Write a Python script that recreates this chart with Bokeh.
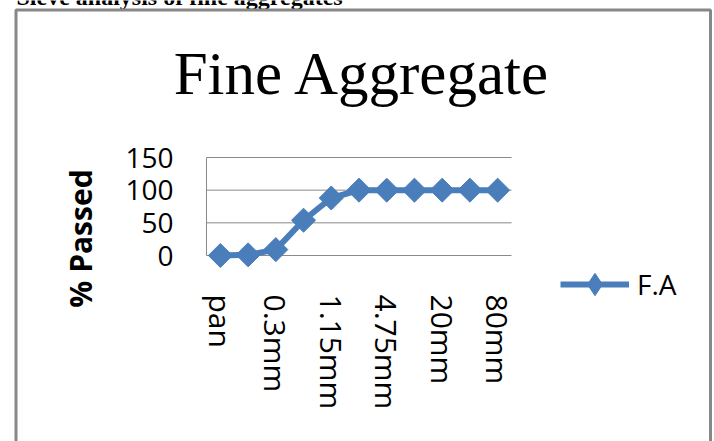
from math import pi

from bokeh.embed import file_html
from bokeh.models import (BoxAnnotation, ColumnDataSource, FixedTicker, Label,
                          Legend, LegendItem, Range1d)
from bokeh.plotting import figure
from bokeh.resources import INLINE

# Sieve sizes (every other one is labelled on the axis) and cumulative % passing
sieve_sizes = ["pan", "0.15mm", "0.3mm", "0.6mm", "1.15mm", "2.36mm",
               "4.75mm", "10mm", "20mm", "40mm", "80mm"]
percent_passed = [0, 1, 9, 54, 88, 100, 100, 100, 100, 100, 100]
y_ticks = [0, 50, 100, 150]
series_name = "F.A"

BLUE = "#4a7ebb"
GRID = "#8a8a8a"
FRAME_GREY = "#878787"
SANS = "Open Sans"
SERIF = "Liberation Serif"

W, H = 714, 441
# pixel box (from the top-left corner) that the category/percent area occupies
AREA_L, AREA_R, AREA_T, AREA_B = 206, 511, 157, 255

n = len(sieve_sizes)
x_lo, x_hi = -0.5, n - 0.5
y_lo, y_hi = y_ticks[0], y_ticks[-1]
kx = (AREA_R - AREA_L) / (x_hi - x_lo)
ky = (AREA_B - AREA_T) / (y_hi - y_lo)

# the plot frame spans the whole canvas so that nothing gets clipped
p = figure(width=W, height=H, output_backend="svg", toolbar_location=None,
           title=None,
           x_range=Range1d(x_lo - AREA_L / kx, x_hi + (W - AREA_R) / kx),
           y_range=Range1d(y_lo - (H - AREA_B) / ky, y_hi + AREA_T / ky),
           min_border=0, min_border_left=0, min_border_right=0,
           min_border_top=0, min_border_bottom=0)
p.outline_line_color = None
p.background_fill_color = "white"
p.border_fill_color = "white"
p.xgrid.visible = False
p.ygrid.visible = False


def top(px):
    """screen y measured from the canvas top"""
    return H - px


src = ColumnDataSource(dict(x=list(range(n)), y=percent_passed, name=sieve_sizes))

# horizontal gridlines at the percent ticks
p.segment(x0=x_lo, x1=x_hi, y0=y_ticks, y1=y_ticks, line_color=GRID, line_width=1)

# x axis: category labels, vertical, every second sieve
p.xaxis.fixed_location = y_lo
p.xaxis.bounds = (x_lo, x_hi)
p.xaxis.ticker = FixedTicker(ticks=list(range(0, n, 2)))
p.xaxis.major_label_overrides = {i: sieve_sizes[i] for i in range(0, n, 2)}
p.xaxis.major_label_orientation = "vertical"
p.xaxis.axis_line_color = None
p.xaxis.major_tick_line_color = None
p.xaxis.minor_tick_line_color = None
p.xaxis.major_label_standoff = 33
p.xaxis.major_label_text_font = SANS
p.xaxis.major_label_text_font_size = "30px"
p.xaxis.major_label_text_color = "black"

# y axis
p.yaxis.fixed_location = x_lo
p.yaxis.bounds = (y_lo, y_hi)
p.yaxis.ticker = FixedTicker(ticks=y_ticks)
p.yaxis.axis_line_color = GRID
p.yaxis.axis_line_width = 1
p.yaxis.major_tick_line_color = None
p.yaxis.minor_tick_line_color = None
p.yaxis.major_label_standoff = 27
p.yaxis.major_label_text_font = SANS
p.yaxis.major_label_text_font_size = "28px"
p.yaxis.major_label_text_color = "black"

line_r = p.line("x", "y", source=src, line_color=BLUE, line_width=6)
mark_r = p.scatter("x", "y", source=src, marker="square", angle=pi / 4, size=17,
                   fill_color=BLUE, line_color=BLUE)
# legend key marker: a diamond glyph whose only point is NaN, so it shows in the key only
key_r = p.scatter(x=[float("nan")], y=[float("nan")], marker="diamond",
                  fill_color=BLUE, line_color=BLUE)

legend = Legend(items=[LegendItem(label=series_name, renderers=[line_r, key_r])],
                location=(560, top(312)),
                glyph_width=69, glyph_height=56, label_standoff=8,
                padding=0, margin=0, border_line_color=None,
                background_fill_alpha=0,
                label_text_font=SANS, label_text_font_size="28px",
                label_text_color="black")
p.add_layout(legend, "center")

# y axis title
p.add_layout(Label(x=80, y=top(238), x_units="screen", y_units="screen",
                   text="% Passed", angle=pi / 2, text_align="center",
                   text_baseline="middle", text_font=SANS,
                   text_font_style="bold", text_font_size="30px",
                   text_color="black"))

# chart title
p.add_layout(Label(x=362, y=top(73), x_units="screen", y_units="screen",
                   text="Fine Aggregate", text_align="center",
                   text_baseline="alphabetic", text_font=SERIF,
                   text_font_size="61px", text_color="black"))

# heading of the section, running off the top edge
p.add_layout(Label(x=16, y=top(-3.5), x_units="screen", y_units="screen",
                   text="Sieve analysis of fine aggregates", text_align="left",
                   text_baseline="alphabetic", text_font=SERIF,
                   text_font_style="bold", text_font_size="24px",
                   text_color="black"))

# chart area border
p.add_layout(BoxAnnotation(left=15.5, right=710, top=top(9.5), bottom=-100,
                           left_units="screen", right_units="screen",
                           top_units="screen", bottom_units="screen",
                           fill_alpha=0, line_color=FRAME_GREY, line_alpha=1,
                           line_width=3, level="overlay"))

open("out.html", "w").write(file_html(p, INLINE))
